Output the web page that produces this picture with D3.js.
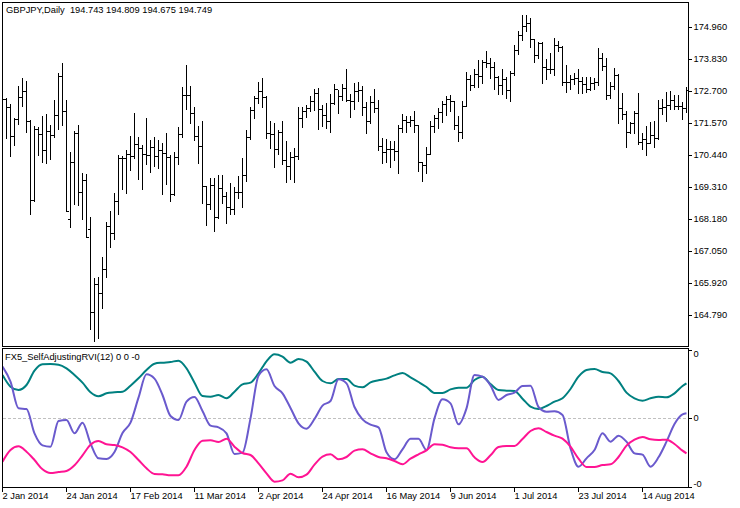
<!DOCTYPE html>
<html><head><meta charset="utf-8">
<script src="https://cdn.jsdelivr.net/npm/d3@7"></script>
<style>
html,body{margin:0;padding:0;background:#fff;}
svg{display:block;}
text{font-family:"Liberation Sans",Arial,sans-serif;font-size:9.3px;fill:#000;}
</style>
</head><body>
<svg id="chart" width="740" height="508"></svg>
<script>
// ---------------- DATA ----------------
const symbolTitle = "GBPJPY,Daily  194.743 194.809 194.675 194.749";
const indicatorTitle = "FX5_SelfAdjustingRVI(12) 0 0 -0";
const firstDate = "2014-01-02";   // bars are consecutive weekdays from here

const openPrices = [172.10,172.37,172.09,171.06,171.69,172.44,172.66,171.61,168.80,171.32,171.15,170.57,171.26,171.10,171.81,173.19,171.96,168.13,170.16,171.19,
169.09,169.51,167.78,164.87,165.85,165.52,166.38,167.90,167.64,168.78,170.30,170.31,170.44,170.36,170.78,170.64,170.44,170.42,170.69,170.38,
170.57,170.49,170.33,169.03,170.33,171.15,172.51,172.51,171.90,171.08,170.72,169.31,168.66,169.35,168.20,169.23,168.97,168.58,168.50,169.09,
169.11,169.70,171.05,171.99,172.41,172.66,172.45,171.17,171.15,170.62,171.21,170.24,170.03,170.35,170.37,171.70,171.95,172.08,172.31,172.59,
172.03,171.81,171.61,172.24,172.72,172.48,172.76,172.35,172.31,172.66,172.69,172.09,171.61,172.29,172.06,170.72,170.51,170.61,170.61,170.56,
171.36,171.64,171.57,171.64,171.46,170.15,170.05,170.44,171.43,171.70,171.92,172.19,172.37,172.31,171.46,171.21,172.15,173.08,172.86,173.27,
173.19,173.68,173.66,173.50,173.16,172.89,173.08,172.70,173.29,174.11,174.63,174.96,175.05,174.49,173.94,174.35,173.52,173.43,173.45,174.29,
174.22,172.97,172.97,173.10,173.12,173.02,172.91,172.72,172.94,172.99,173.82,173.55,172.52,172.84,173.23,172.05,171.84,171.23,171.52,171.88,
170.88,170.97,170.84,171.10,170.99,172.05,172.11,172.17,172.35,172.14,172.12,172.05];
const highPrices = [172.45,172.41,172.19,171.70,172.83,173.11,173.02,171.64,171.42,171.41,171.77,171.84,171.45,172.36,173.30,173.65,172.34,170.52,171.24,171.46,
169.76,169.75,168.22,166.05,166.11,166.80,168.05,168.42,169.07,170.40,170.38,170.58,171.08,171.89,171.03,170.76,171.72,170.93,171.05,170.93,
170.84,171.18,170.40,170.52,171.41,172.82,173.58,172.84,172.10,171.43,171.61,169.31,169.58,169.58,169.70,169.70,169.11,169.43,169.29,169.68,
170.31,171.29,172.10,172.49,172.98,173.11,172.49,171.61,171.53,171.29,171.61,170.90,170.51,170.66,172.10,172.10,172.17,172.49,172.74,172.77,
172.17,172.24,172.56,172.91,172.70,172.91,173.43,172.56,172.95,172.98,172.84,172.26,172.50,172.74,172.35,171.02,170.96,170.90,170.90,171.45,
171.84,171.78,171.78,171.96,171.46,170.17,170.69,171.61,171.82,172.06,172.32,172.49,172.52,172.32,171.78,172.32,173.34,173.22,173.44,173.76,
173.76,174.08,173.82,173.68,173.19,173.44,173.17,173.37,174.29,174.78,175.35,175.34,175.23,174.49,174.38,174.38,173.79,173.99,174.52,174.43,
174.25,173.58,173.23,173.30,173.44,173.17,173.16,173.17,173.11,174.18,174.02,173.82,172.99,173.47,173.25,172.61,171.97,171.58,171.96,172.59,
171.17,171.43,171.56,171.61,172.35,172.38,172.64,172.67,172.52,172.52,172.29,172.81];
const lowPrices = [171.80,171.02,170.38,170.76,171.49,172.15,171.23,168.31,168.78,170.40,170.17,170.12,170.28,171.03,171.31,171.46,168.42,167.87,168.66,168.64,
168.13,167.52,164.25,163.85,163.93,165.01,166.11,167.17,167.44,168.31,169.20,169.07,169.87,170.30,169.57,169.19,170.10,169.82,170.03,169.96,
169.02,169.37,168.79,168.99,170.09,171.05,172.02,171.52,170.93,170.13,168.70,167.92,168.49,167.73,168.17,168.70,168.02,168.31,168.33,168.87,
168.58,169.50,170.96,171.72,172.25,172.11,170.99,170.64,169.99,170.44,170.09,169.46,169.55,169.46,170.28,171.41,171.76,171.97,172.01,171.33,
171.44,171.35,171.23,172.21,171.90,172.36,172.32,171.76,172.02,172.32,171.83,171.19,171.52,171.91,170.58,170.13,170.17,169.99,170.23,169.78,
171.21,171.23,171.43,171.23,169.85,169.50,169.76,170.44,171.23,171.35,171.58,171.81,171.96,171.31,170.91,170.99,172.14,172.70,172.79,172.82,
172.96,173.52,173.14,172.75,172.56,172.56,172.41,172.32,173.23,173.97,174.47,174.80,174.21,173.70,173.82,172.94,173.10,173.29,173.23,174.09,
172.88,172.64,172.74,172.91,172.58,172.60,172.64,172.70,172.75,172.88,173.41,172.37,172.43,172.75,171.52,171.66,170.68,171.19,171.19,170.79,
170.61,170.39,170.84,170.68,170.96,171.85,171.61,172.02,172.04,172.02,171.66,171.91];
const closePrices = [172.37,172.09,171.06,171.69,172.44,172.66,171.61,168.80,171.32,171.15,170.57,171.26,171.10,171.81,173.19,171.96,168.42,170.16,171.19,169.09,
169.51,167.52,164.87,165.85,165.52,166.38,167.90,167.64,168.78,170.30,170.31,170.44,170.36,170.78,170.64,170.44,170.42,170.69,170.38,170.57,
170.49,170.33,169.03,170.33,171.15,172.51,172.51,171.90,171.08,170.72,169.31,168.66,169.35,168.20,169.23,168.97,168.58,168.50,169.09,169.11,
169.70,171.05,171.99,172.41,172.66,172.45,171.17,171.15,170.62,171.21,170.24,170.03,170.35,170.37,171.70,171.95,172.08,172.31,172.59,172.03,
171.81,171.61,172.24,172.72,172.48,172.76,172.35,172.31,172.66,172.69,172.09,171.61,172.29,172.06,170.72,170.51,170.61,170.61,170.56,171.36,
171.64,171.57,171.64,171.46,170.15,170.05,170.44,171.43,171.70,171.92,172.19,172.37,172.31,171.46,171.21,172.15,173.08,172.86,173.27,173.19,
173.68,173.66,173.50,173.16,172.89,173.08,172.70,173.29,174.11,174.63,174.96,175.05,174.49,173.94,174.35,173.52,173.43,173.45,174.29,174.22,
172.97,172.97,173.10,173.12,173.02,172.91,172.72,172.94,172.99,173.82,173.55,172.52,172.84,173.23,172.05,171.84,171.23,171.52,171.88,170.88,
170.97,170.84,171.10,170.99,172.05,172.11,172.17,172.35,172.14,172.12,172.05,172.69];

const priceTicks = [174.960,173.830,172.700,171.570,170.440,169.310,168.180,167.050,165.920,164.790];
const dateTickBars = [0,16,32,48,64,80,96,112,128,144,160];
const dateTickLabels = ["2 Jan 2014","24 Jan 2014","17 Feb 2014","11 Mar 2014","2 Apr 2014","24 Apr 2014","16 May 2014","9 Jun 2014","1 Jul 2014","23 Jul 2014","14 Aug 2014"];

// indicator read at every second bar (0,2,...,170) plus the last bar (171)
const rviUp = [0.64,0.465,0.415,0.49,0.705,0.80,0.805,0.795,0.74,0.64,
0.525,0.38,0.32,0.365,0.38,0.39,0.48,0.59,0.715,0.81,
0.825,0.835,0.855,0.74,0.525,0.325,0.315,0.34,0.29,0.39,
0.50,0.525,0.665,0.845,0.95,0.915,0.825,0.88,0.84,0.69,
0.55,0.515,0.58,0.58,0.48,0.455,0.53,0.56,0.585,0.635,
0.67,0.605,0.535,0.46,0.37,0.37,0.425,0.45,0.45,0.565,
0.615,0.505,0.415,0.405,0.40,0.285,0.165,0.13,0.175,0.24,
0.29,0.43,0.615,0.715,0.73,0.685,0.665,0.55,0.375,0.29,
0.255,0.29,0.315,0.305,0.365,0.475,0.515];
const rviMain = [0.765,0.54,0.14,0.13,-0.235,-0.415,-0.435,-0.05,-0.035,-0.235,
-0.075,-0.385,-0.61,-0.62,-0.515,-0.23,-0.075,0.30,0.65,0.585,
0.34,0.025,-0.035,0.24,0.31,0.10,-0.12,-0.145,-0.235,-0.545,
-0.525,-0.01,0.63,0.725,0.475,0.365,0.145,-0.085,-0.165,-0.02,
0.18,0.25,0.575,0.515,0.16,-0.025,-0.105,-0.145,-0.52,-0.625,
-0.475,-0.315,-0.315,-0.485,-0.01,0.275,0.215,-0.10,0.14,0.64,
0.615,0.485,0.265,0.34,0.375,0.475,0.48,0.16,0.09,0.095,
0.04,-0.46,-0.735,-0.61,-0.485,-0.235,-0.36,-0.27,-0.36,-0.535,
-0.555,-0.735,-0.595,-0.36,-0.095,0.05,0.065];
const rviDown = [-0.66,-0.485,-0.43,-0.51,-0.635,-0.775,-0.83,-0.815,-0.80,-0.715,
-0.565,-0.405,-0.35,-0.40,-0.41,-0.445,-0.515,-0.635,-0.76,-0.845,
-0.85,-0.865,-0.865,-0.735,-0.485,-0.345,-0.34,-0.365,-0.315,-0.435,
-0.53,-0.56,-0.685,-0.835,-0.96,-0.94,-0.84,-0.895,-0.855,-0.705,
-0.585,-0.55,-0.625,-0.59,-0.495,-0.475,-0.535,-0.59,-0.61,-0.65,
-0.70,-0.615,-0.55,-0.49,-0.40,-0.405,-0.445,-0.46,-0.46,-0.595,
-0.665,-0.565,-0.44,-0.425,-0.425,-0.32,-0.20,-0.16,-0.215,-0.27,
-0.315,-0.435,-0.615,-0.74,-0.74,-0.71,-0.70,-0.59,-0.42,-0.33,
-0.29,-0.325,-0.335,-0.33,-0.395,-0.495,-0.535];
const indTickValues = [1.015, 0, -1.04];
const indTickLabels = ["0", "0", "-0"];

// ---------------- BUILD ----------------
const nBars = closePrices.length;
const dates = [];
{
  let d = new Date(firstDate + "T00:00:00");
  while (dates.length < nBars) {
    const wd = d.getDay();
    if (wd !== 0 && wd !== 6) dates.push(new Date(d));
    d = d3.timeDay.offset(d, 1);
  }
}
const bars = dates.map((date, i) => ({i, date, o: openPrices[i], h: highPrices[i], l: lowPrices[i], c: closePrices[i]}));
const sampleBars = d3.range(0, nBars - 1, 2).concat([nBars - 1]);

const svg = d3.select("#chart");
svg.append("rect").attr("width", 740).attr("height", 508).attr("fill", "#fff");

const x = d3.scaleLinear().domain([0, nBars - 1]).range([2, 2 + 4 * (nBars - 1)]);
const yP = d3.scaleLinear().domain([164.79, 174.96]).range([314, 26]);
const yI = d3.scaleLinear().domain([-1.04, 1.015]).range([487, 350]);

const px = v => Math.round(v) + 0.5;

// panel frames
const frames = svg.append("g").attr("fill", "none").attr("stroke", "#000").attr("shape-rendering", "crispEdges");
frames.append("rect").attr("x", 2.5).attr("y", 2.5).attr("width", 686).attr("height", 344);
frames.append("rect").attr("x", 2.5).attr("y", 348.5).attr("width", 686).attr("height", 139);

// OHLC bars
svg.append("clipPath").attr("id", "clipTop").append("rect").attr("x", 2).attr("y", 3).attr("width", 686).attr("height", 343);
const gBars = svg.append("g").attr("clip-path", "url(#clipTop)")
  .attr("stroke", "#000").attr("stroke-width", 1).attr("fill", "none").attr("shape-rendering", "crispEdges");
gBars.selectAll("path").data(bars).join("path")
  .attr("d", d => {
    const cx = Math.round(x(d.i)) + 0.5;
    const yh = Math.round(yP(d.h)), yl = Math.round(yP(d.l));
    const yo = px(yP(d.o)), yc = px(yP(d.c));
    return `M${cx},${yh}V${yl + 1}M${cx - 2.5},${yo}H${cx - 0.5}M${cx + 0.5},${yc}H${cx + 2.5}`;
  });

// price axis
const axP = d3.axisRight(yP).tickValues(priceTicks).tickSize(3).tickPadding(2).tickFormat(d3.format(".3f"));
const gAxP = svg.append("g").attr("transform", "translate(688.5,0.5)").call(axP);
gAxP.select(".domain").remove();
gAxP.selectAll(".tick line").attr("stroke", "#000").attr("shape-rendering", "crispEdges");
gAxP.selectAll(".tick text").attr("font-family", null).attr("font-size", null).attr("dy", "3.3px").attr("fill", "#000");

// titles
svg.append("text").attr("x", 6).attr("y", 13).attr("xml:space", "preserve").style("white-space", "pre").text(symbolTitle);
svg.append("text").attr("x", 5).attr("y", 360).text(indicatorTitle);

// indicator panel
svg.append("clipPath").attr("id", "clipInd").append("rect").attr("x", 3).attr("y", 349).attr("width", 685).attr("height", 138);
const gInd = svg.append("g").attr("clip-path", "url(#clipInd)");
gInd.append("line").attr("x1", 3).attr("x2", 688).attr("y1", px(yI(0))).attr("y2", px(yI(0)))
  .attr("stroke", "#c0c0c0").attr("stroke-dasharray", "3,2").attr("shape-rendering", "crispEdges");

const series = [
  {vals: rviUp, color: "#008080"},
  {vals: rviMain, color: "#6a5acd"},
  {vals: rviDown, color: "#ff1493"}
];
const line = d3.line().x(d => x(d[0]) + 0.5).y(d => yI(d[1])).curve(d3.curveMonotoneX);
gInd.selectAll("path.ind").data(series).join("path").attr("class", "ind")
  .attr("fill", "none").attr("stroke", d => d.color).attr("stroke-width", 2).attr("stroke-linejoin", "round")
  .attr("d", s => line(sampleBars.map((b, k) => [b, s.vals[k]])));

// indicator axis
const gAxI = svg.append("g").attr("transform", "translate(688.5,0)");
gAxI.selectAll("line").data(indTickValues).join("line")
  .attr("x1", 0).attr("x2", 3).attr("y1", d => px(yI(d))).attr("y2", d => px(yI(d)))
  .attr("stroke", "#000").attr("shape-rendering", "crispEdges");
const labelShift = [7, 3.5, -0.5];
gAxI.selectAll("text").data(indTickValues).join("text")
  .attr("x", 5).attr("y", (d, k) => yI(d) + labelShift[k]).text((d, k) => indTickLabels[k]);

// time axis
const gAxT = svg.append("g");
gAxT.selectAll("line").data(dateTickBars).join("line")
  .attr("x1", d => Math.round(x(d)) + 0.5).attr("x2", d => Math.round(x(d)) + 0.5)
  .attr("y1", 488).attr("y2", 492).attr("stroke", "#000").attr("shape-rendering", "crispEdges");
gAxT.selectAll("text").data(dateTickBars).join("text")
  .attr("x", d => x(d) + 0.5).attr("y", 499).text((d, k) => dateTickLabels[k]);
</script>
</body></html>
